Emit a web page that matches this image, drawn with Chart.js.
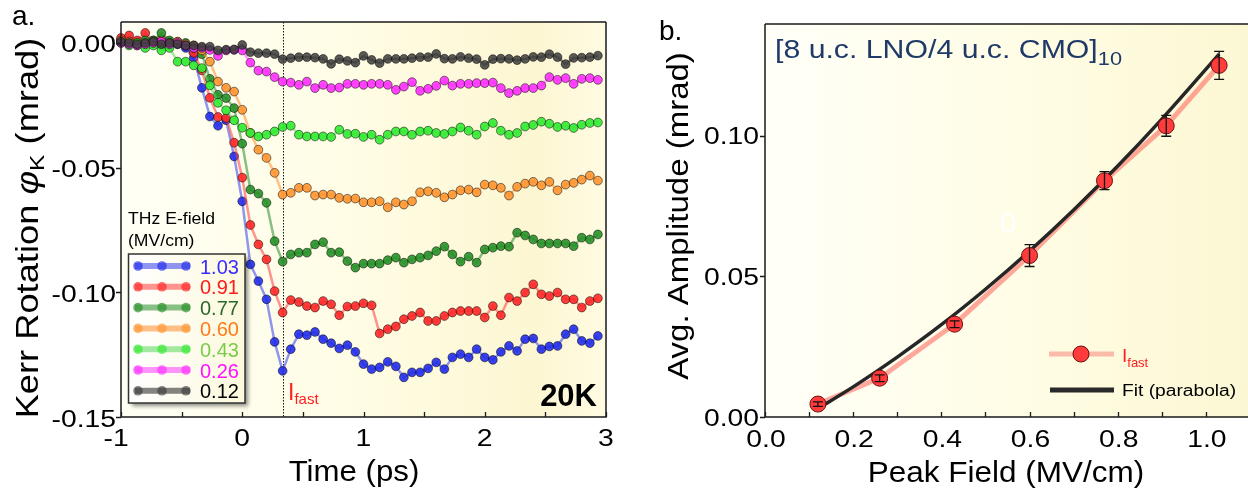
<!DOCTYPE html>
<html>
<head>
<meta charset="utf-8">
<script src="https://cdn.jsdelivr.net/npm/chart.js@4.4.1/dist/chart.umd.min.js"></script>
<style>
html, body { margin: 0; padding: 0; background: #fff; overflow: hidden; width: 1248px; height: 488px; }
#ca { position: absolute; left: 0; top: 0; }
#cb { position: absolute; left: 640px; top: 0; }
</style>
</head>
<body>
<canvas id="ca" width="640" height="488"></canvas>
<canvas id="cb" width="640" height="488"></canvas>
<script>
// ---- panel a : Kerr rotation vs time, one series per THz field ----
var times = [-1, -0.933, -0.867, -0.8, -0.733, -0.667, -0.6, -0.533, -0.467, -0.4,
  -0.333, -0.267, -0.2, -0.133, -0.067, 0, 0.067, 0.133, 0.2, 0.267,
  0.333, 0.4, 0.467, 0.533, 0.6, 0.667, 0.733, 0.8, 0.867, 0.933,
  1, 1.067, 1.133, 1.2, 1.267, 1.333, 1.4, 1.467, 1.533, 1.6,
  1.667, 1.733, 1.8, 1.867, 1.933, 2, 2.067, 2.133, 2.2, 2.267,
  2.333, 2.4, 2.467, 2.533, 2.6, 2.667, 2.733, 2.8, 2.867, 2.933];

var kerr103 = [0.001, 0.0005, 0, -0.0005, 0, 0.0005, -0.001, -0.0005, -0.002, -0.006,
  -0.018, -0.0295, -0.0332, -0.031, -0.0455, -0.0635, -0.0888, -0.0955, -0.1028, -0.1199,
  -0.1315, -0.1228, -0.1168, -0.1172, -0.1159, -0.1188, -0.1204, -0.1225, -0.1212, -0.1239,
  -0.1288, -0.1308, -0.1301, -0.1279, -0.1297, -0.1341, -0.1321, -0.1321, -0.1305, -0.1281,
  -0.1308, -0.1261, -0.1248, -0.1261, -0.1228, -0.1261, -0.1271, -0.1239, -0.1215, -0.1235,
  -0.1188, -0.1185, -0.1228, -0.1217, -0.1215, -0.1168, -0.1148, -0.1195, -0.1204, -0.1175];
var kerr091 = [0.002, 0.003, 0.001, 0.004, 0.001, 0.0015, 0, 0.0005, -0.001, -0.004,
  -0.011, -0.022, -0.0297, -0.0301, -0.040, -0.054, -0.0730, -0.0808, -0.0868, -0.0995,
  -0.1081, -0.1031, -0.1039, -0.1055, -0.1061, -0.1035, -0.1048, -0.1092, -0.1057, -0.1055,
  -0.1044, -0.1052, -0.1165, -0.1148, -0.1137, -0.1108, -0.1095, -0.1081, -0.1115, -0.1115,
  -0.1095, -0.1081, -0.1075, -0.1075, -0.1075, -0.1101, -0.1055, -0.1092, -0.1021, -0.1035,
  -0.1001, -0.0968, -0.1008, -0.1015, -0.1001, -0.1028, -0.1028, -0.1061, -0.1035, -0.1024];
var kerr077 = [0.0005, 0, -0.001, 0.001, 0.001, 0.004, 0.001, 0, 0, -0.002,
  -0.0045, -0.0144, -0.0208, -0.0221, -0.0261, -0.0404, -0.0588, -0.0604, -0.0641, -0.0795,
  -0.0877, -0.0848, -0.0841, -0.0841, -0.0808, -0.0799, -0.0841, -0.0839, -0.0875, -0.0901,
  -0.0885, -0.0885, -0.0885, -0.0871, -0.0861, -0.0881, -0.0868, -0.0861, -0.0852, -0.0835,
  -0.0817, -0.0848, -0.0877, -0.0857, -0.0881, -0.0828, -0.0821, -0.0815, -0.0817, -0.0761,
  -0.0772, -0.0788, -0.0804, -0.0804, -0.0804, -0.0804, -0.0815, -0.0781, -0.0788, -0.0768];
var kerr060 = [0.001, 0.0005, 0, -0.0005, 0, -0.001, 0, 0.0005, -0.0005, -0.001,
  -0.003, -0.0075, -0.0155, -0.018, -0.0195, -0.0268, -0.0361, -0.0428, -0.0461, -0.0521,
  -0.0608, -0.0601, -0.0581, -0.0581, -0.0612, -0.0608, -0.0608, -0.0621, -0.0625, -0.0624,
  -0.0639, -0.0639, -0.0635, -0.0659, -0.0639, -0.0648, -0.0635, -0.0599, -0.0595, -0.0601,
  -0.0619, -0.0608, -0.0591, -0.0588, -0.0599, -0.0568, -0.0571, -0.0581, -0.0612, -0.0577,
  -0.0564, -0.0557, -0.0571, -0.0557, -0.0591, -0.0568, -0.0561, -0.0548, -0.0532, -0.0552];
var kerr043 = [0, -0.001, 0, -0.002, -0.001, -0.003, -0.002, -0.0075, -0.0075, -0.009,
  -0.0101, -0.017, -0.024, -0.027, -0.031, -0.034, -0.0361, -0.0375, -0.0368, -0.0355,
  -0.0337, -0.0332, -0.0368, -0.0375, -0.0375, -0.0375, -0.0377, -0.0348, -0.0365, -0.0364,
  -0.0377, -0.0368, -0.0388, -0.0368, -0.0355, -0.0355, -0.0368, -0.0355, -0.0352, -0.0361,
  -0.0365, -0.0355, -0.0339, -0.0352, -0.0368, -0.0335, -0.0321, -0.0352, -0.0368, -0.0361,
  -0.0335, -0.0329, -0.0316, -0.0324, -0.0337, -0.0332, -0.0341, -0.0328, -0.0321, -0.0319];
var kerr026 = [0, -0.0005, -0.001, -0.0005, 0, 0.0005, -0.0005, 0, -0.001, -0.002,
  -0.002, -0.0028, -0.0052, -0.003, -0.0028, -0.003, -0.0079, -0.0111, -0.0115, -0.0137,
  -0.0155, -0.0159, -0.0168, -0.0155, -0.0181, -0.0168, -0.0181, -0.0179, -0.0164, -0.0164,
  -0.0168, -0.0164, -0.0164, -0.0168, -0.0188, -0.0175, -0.0157, -0.0192, -0.0184, -0.0172,
  -0.0151, -0.0171, -0.0164, -0.0164, -0.0161, -0.0161, -0.0159, -0.0181, -0.0201, -0.0192,
  -0.0181, -0.0181, -0.0171, -0.0137, -0.0148, -0.0141, -0.0164, -0.0144, -0.0141, -0.0148];
var kerr012 = [0.0005, 0, -0.0005, 0, 0.0005, -0.0005, 0, -0.0005, -0.001, -0.001,
  -0.0015, -0.0015, -0.003, -0.0027, -0.0026, -0.0008, -0.0037, -0.0041, -0.0041, -0.0045,
  -0.0065, -0.0061, -0.0057, -0.0057, -0.0059, -0.0064, -0.0084, -0.0065, -0.0072, -0.0079,
  -0.0052, -0.0068, -0.0081, -0.0064, -0.0064, -0.0064, -0.0061, -0.0057, -0.0057, -0.0044,
  -0.0063, -0.0064, -0.0056, -0.0061, -0.0065, -0.0088, -0.0065, -0.0063, -0.0064, -0.0069,
  -0.0064, -0.0056, -0.0057, -0.0045, -0.0057, -0.0085, -0.006, -0.0059, -0.0057, -0.0051];

var fieldLabels = ['1.03', '0.91', '0.77', '0.60', '0.43', '0.26', '0.12'];
var fastTime = 0.333;

var xTicksA = [-1, 0, 1, 2, 3];
var xMinorA = [-0.5, 0.5, 1.5, 2.5];
var yTicksA = [0, -0.05, -0.10, -0.15];
var yTickLabelsA = ['0.00', '-0.05', '-0.10', '-0.15'];

// ---- panel b : amplitude vs peak field ----
var peakField = [0.12, 0.26, 0.43, 0.60, 0.77, 0.91, 1.03];
var avgAmp = [0.0046, 0.0138, 0.0330, 0.0574, 0.0840, 0.1035, 0.1250];
var ampErr = [0.0008, 0.0012, 0.0012, 0.0039, 0.0032, 0.0037, 0.0050];
var fitField = [0.12, 0.2, 0.3, 0.4, 0.5, 0.6, 0.7, 0.8, 0.9, 1.03];
var fitAmp = [0.0030, 0.0107, 0.0213, 0.0328, 0.0454, 0.0590, 0.0736, 0.0892, 0.1059, 0.1290];

var xTicksB = [0, 0.2, 0.4, 0.6, 0.8, 1.0];
var xTickLabelsB = ['0.0', '0.2', '0.4', '0.6', '0.8', '1.0'];
var xMinorB = [0.1, 0.3, 0.5, 0.7, 0.9];
var yTicksB = [0, 0.05, 0.10];
var yTickLabelsB = ['0.00', '0.05', '0.10'];

var FONT = '"Liberation Sans", Arial, Helvetica, sans-serif';

var seriesStyle = [
  {data: kerr103, fill: 'rgba(35,45,235,0.9)',  line: 'rgba(70,80,240,0.6)',  text: '#3a2bff'},
  {data: kerr091, fill: 'rgba(255,40,40,0.9)',  line: 'rgba(255,60,60,0.55)', text: '#ff1a1a'},
  {data: kerr077, fill: 'rgba(40,145,40,0.9)',  line: 'rgba(40,140,40,0.55)', text: '#2c6a2c'},
  {data: kerr060, fill: 'rgba(255,150,50,0.9)', line: 'rgba(255,150,60,0.6)', text: '#ff7a1a'},
  {data: kerr043, fill: 'rgba(50,235,50,0.9)',  line: 'rgba(90,215,90,0.55)', text: '#78cc48'},
  {data: kerr026, fill: 'rgba(255,50,255,0.9)', line: 'rgba(255,60,255,0.55)', text: '#ff10ff'},
  {data: kerr012, fill: 'rgba(60,60,60,0.85)',  line: 'rgba(50,50,50,0.6)',  text: '#000000'}
];

function fontOf(p) {
  return (p.italic ? 'italic ' : '') + (p.bold ? 'bold ' : '') + p.size + 'px ' + FONT;
}

// draw a run of text pieces (sub/superscripts etc), optionally rotated
function rich(ctx, parts, x, y, o) {
  o = o || {};
  var sx = o.sx || 1;
  ctx.save();
  ctx.translate(x, y);
  if (o.rot) ctx.rotate(-Math.PI / 2);
  ctx.textBaseline = 'alphabetic';
  ctx.textAlign = 'left';
  var total = 0;
  parts.forEach(function (p) {
    ctx.font = fontOf(p);
    p.w = ctx.measureText(p.t).width * (p.sx || sx);
    total += p.w;
  });
  var cx = 0;
  if (o.align === 'center') cx = -total / 2;
  if (o.align === 'right') cx = -total;
  parts.forEach(function (p) {
    ctx.save();
    ctx.font = fontOf(p);
    ctx.fillStyle = p.color || o.color || '#000';
    ctx.translate(cx, p.dy || 0);
    ctx.scale(p.sx || sx, 1);
    ctx.fillText(p.t, 0, 0);
    ctx.restore();
    cx += p.w;
  });
  ctx.restore();
}

function txt(ctx, s, x, y, size, o) {
  o = o || {};
  rich(ctx, [{t: s, size: size, bold: o.bold, color: o.color}], x, y, o);
}

function drawFrame(ctx, a, sides) {
  ctx.save();
  ctx.strokeStyle = '#1a1a1a';
  ctx.lineWidth = 1.5;
  ctx.beginPath();
  ctx.moveTo(a.left, a.top);
  ctx.lineTo(a.left, a.bottom);
  ctx.lineTo(a.right, a.bottom);
  if (sides.right) ctx.lineTo(a.right, a.top);
  ctx.moveTo(a.left, a.top);
  ctx.lineTo(a.right, a.top);
  ctx.stroke();
  ctx.restore();
}

function xTickMarks(ctx, c, vals) {
  var a = c.chartArea;
  ctx.save();
  ctx.strokeStyle = '#1a1a1a';
  ctx.lineWidth = 1.3;
  ctx.beginPath();
  vals.forEach(function (v) {
    var px = Math.round(c.scales.x.getPixelForValue(v)) + 0.5;
    ctx.moveTo(px, a.bottom);
    ctx.lineTo(px, a.bottom - 5);
  });
  ctx.stroke();
  ctx.restore();
}

function yTickMarks(ctx, c, vals) {
  var a = c.chartArea;
  ctx.save();
  ctx.strokeStyle = '#1a1a1a';
  ctx.lineWidth = 1.3;
  ctx.beginPath();
  vals.forEach(function (v) {
    var py = Math.round(c.scales.y.getPixelForValue(v)) + 0.5;
    ctx.moveTo(a.left - 5, py);
    ctx.lineTo(a.left, py);
  });
  ctx.stroke();
  ctx.restore();
}

function fillBackground(c, stops) {
  var ctx = c.ctx, a = c.chartArea;
  var g = ctx.createLinearGradient(a.left, 0, a.right, 0);
  stops.forEach(function (s) { g.addColorStop(s[0], s[1]); });
  ctx.save();
  ctx.fillStyle = g;
  ctx.fillRect(a.left, a.top, a.right - a.left, a.bottom - a.top);
  ctx.restore();
}

var panelA = {
  id: 'panelA',
  beforeDatasetsDraw: function (c) {
    var ctx = c.ctx, a = c.chartArea;
    fillBackground(c, [[0, '#fffff5'], [0.45, '#fffde6'], [0.85, '#fcf6d2'], [1, '#fffbe2']]);
    var x = Math.round(c.scales.x.getPixelForValue(fastTime)) + 0.5;
    ctx.save();
    ctx.strokeStyle = '#111';
    ctx.lineWidth = 1;
    ctx.setLineDash([1.5, 1.5]);
    ctx.beginPath();
    ctx.moveTo(x, a.top);
    ctx.lineTo(x, a.bottom);
    ctx.stroke();
    ctx.restore();
  },
  afterDatasetsDraw: function (c) {
    var ctx = c.ctx, a = c.chartArea;
    drawFrame(ctx, a, {right: true});
    xTickMarks(ctx, c, xTicksA.concat(xMinorA));
    yTickMarks(ctx, c, yTicksA);
    xTicksA.forEach(function (v) {
      var px = c.scales.x.getPixelForValue(v);
      if (v < 0) {
        txt(ctx, '-', px - 8, 446, 24, {sx: 1.18, align: 'right'});
        txt(ctx, String(-v), px - 8, 446, 24, {sx: 1.18});
      } else {
        txt(ctx, String(v), px, 446, 24, {sx: 1.18, align: 'center'});
      }
    });
    yTicksA.forEach(function (v, i) {
      var py = c.scales.y.getPixelForValue(v);
      txt(ctx, yTickLabelsA[i], 116, py + 9.5, 24, {sx: 1.18, align: 'right'});
    });
    txt(ctx, 'Time (ps)', 354, 481, 30, {sx: 1.04, align: 'center'});
    rich(ctx, [
      {t: 'Kerr Rotation ', size: 31},
      {t: '\u03C6', size: 31, italic: true},
      {t: 'K', size: 21, dy: 6},
      {t: ' (mrad)', size: 31}
    ], 38, 228, {rot: true, align: 'center', sx: 1.17});
    txt(ctx, 'a.', 12, 25, 28);

    // legend box
    ctx.save();
    ctx.shadowColor = 'rgba(0,0,0,0.45)';
    ctx.shadowBlur = 4;
    ctx.shadowOffsetX = 3;
    ctx.shadowOffsetY = 3;
    var lg = ctx.createLinearGradient(128, 0, 245, 0);
    lg.addColorStop(0, '#ffffff');
    lg.addColorStop(1, '#fcf9dc');
    ctx.fillStyle = lg;
    ctx.fillRect(128.5, 254, 116.5, 149);
    ctx.restore();
    ctx.save();
    ctx.strokeStyle = '#333';
    ctx.lineWidth = 1.5;
    ctx.strokeRect(128.5, 254, 116.5, 149);
    ctx.restore();
    txt(ctx, 'THz E-field', 128, 224, 16, {sx: 1.1});
    txt(ctx, '(MV/cm)', 128, 246, 16, {sx: 1.1});
    seriesStyle.forEach(function (s, i) {
      var y = 266 + i * 20.8;
      ctx.save();
      ctx.strokeStyle = s.line;
      ctx.lineWidth = 6;
      ctx.beginPath();
      ctx.moveTo(135, y);
      ctx.lineTo(190, y);
      ctx.stroke();
      [138, 162, 186].forEach(function (px) {
        ctx.beginPath();
        ctx.arc(px, y, 4.8, 0, Math.PI * 2);
        ctx.fillStyle = s.fill;
        ctx.globalAlpha = 0.75;
        ctx.fill();
      });
      ctx.restore();
      txt(ctx, fieldLabels[i], 200, y + 7.5, 20, {color: s.text});
    });

    // annotations
    rich(ctx, [
      {t: 'I', size: 23, color: '#ff2020'},
      {t: 'fast', size: 15, dy: 4, color: '#ff2020'}
    ], 288, 400, {});
    txt(ctx, '20K', 597, 406, 31, {bold: true, align: 'right'});
  }
};

var datasetsA = seriesStyle.slice().reverse().map(function (s) {
  return {
    data: times.map(function (t, i) { return {x: t, y: s.data[i]}; }),
    borderColor: s.line,
    borderWidth: 2.5,
    backgroundColor: s.fill,
    pointBackgroundColor: s.fill,
    pointBorderColor: 'rgba(0,0,0,0.5)',
    pointBorderWidth: 1,
    pointRadius: 4.4,
    tension: 0,
    clip: false
  };
});

new Chart(document.getElementById('ca'), {
  type: 'line',
  data: {datasets: datasetsA},
  options: {
    responsive: false,
    animation: false,
    events: [],
    layout: {padding: {left: 0, right: 34, top: 22, bottom: 0}},
    plugins: {legend: {display: false}, tooltip: {enabled: false}},
    scales: {
      x: {type: 'linear', min: -1, max: 3, ticks: {display: false}, grid: {display: false},
          border: {display: false}, afterFit: function (s) { s.height = 71; }},
      y: {type: 'linear', min: -0.15, max: 0.0084, ticks: {display: false}, grid: {display: false},
          border: {display: false}, afterFit: function (s) { s.width = 121; }}
    }
  },
  plugins: [panelA]
});

var panelB = {
  id: 'panelB',
  beforeDatasetsDraw: function (c) {
    fillBackground(c, [[0, '#fffff8'], [0.5, '#fffde6'], [1, '#fcf7d3']]);
  },
  afterDatasetsDraw: function (c) {
    var ctx = c.ctx, a = c.chartArea;
    // error bars
    ctx.save();
    ctx.strokeStyle = '#111';
    ctx.lineWidth = 1.3;
    peakField.forEach(function (f, i) {
      var px = c.scales.x.getPixelForValue(f);
      var y1 = c.scales.y.getPixelForValue(avgAmp[i] + ampErr[i]);
      var y2 = c.scales.y.getPixelForValue(avgAmp[i] - ampErr[i]);
      ctx.beginPath();
      ctx.moveTo(px, y1); ctx.lineTo(px, y2);
      ctx.moveTo(px - 5, y1); ctx.lineTo(px + 5, y1);
      ctx.moveTo(px - 5, y2); ctx.lineTo(px + 5, y2);
      ctx.stroke();
    });
    ctx.restore();

    drawFrame(ctx, a, {right: false});
    xTickMarks(ctx, c, xTicksB.concat(xMinorB));
    yTickMarks(ctx, c, yTicksB);
    xTicksB.forEach(function (v, i) {
      txt(ctx, xTickLabelsB[i], c.scales.x.getPixelForValue(v) + 1, 447, 24, {sx: 1.18, align: 'center'});
    });
    yTicksB.forEach(function (v, i) {
      txt(ctx, yTickLabelsB[i], 119, c.scales.y.getPixelForValue(v) + 8.5, 24, {sx: 1.18, align: 'right'});
    });
    txt(ctx, 'Peak Field (MV/cm)', 366, 482, 30, {sx: 1.05, align: 'center'});
    txt(ctx, 'Avg. Amplitude (mrad)', 48, 216, 30, {rot: true, sx: 1.1, align: 'center'});
    txt(ctx, 'b.', 19, 40, 28);
    rich(ctx, [
      {t: '[8 u.c. LNO/4 u.c. CMO]', size: 25},
      {t: '10', size: 18, dy: 7}
    ], 135, 58, {sx: 1.21, color: '#1f3a68'});
    txt(ctx, '0', 368, 233, 30, {color: '#ffffff', align: 'center'});

    // legend
    ctx.save();
    ctx.lineWidth = 5;
    ctx.strokeStyle = 'rgba(250,175,160,0.85)';
    ctx.beginPath(); ctx.moveTo(409, 354); ctx.lineTo(474, 354); ctx.stroke();
    ctx.beginPath(); ctx.arc(441, 354, 8, 0, Math.PI * 2);
    ctx.fillStyle = '#ff3b3b'; ctx.fill();
    ctx.lineWidth = 1; ctx.strokeStyle = '#6b1010'; ctx.stroke();
    ctx.lineWidth = 5;
    ctx.strokeStyle = '#2a2a2a';
    ctx.beginPath(); ctx.moveTo(410, 390); ctx.lineTo(474, 390); ctx.stroke();
    ctx.restore();
    rich(ctx, [
      {t: 'I', size: 19, color: '#ff2020'},
      {t: 'fast', size: 13, dy: 5, color: '#ff2020'}
    ], 482, 362, {});
    txt(ctx, 'Fit (parabola)', 482, 396, 16, {sx: 1.2});
  }
};

var pts = peakField.map(function (f, i) { return {x: f, y: avgAmp[i]}; });

new Chart(document.getElementById('cb'), {
  type: 'line',
  data: {
    datasets: [
      {data: pts, showLine: false, pointRadius: 8, pointBackgroundColor: '#ff3b3b',
       pointBorderColor: '#6b1010', pointBorderWidth: 1, clip: false},
      {data: fitField.map(function (f, i) { return {x: f, y: fitAmp[i]}; }),
       borderColor: '#262626', borderWidth: 3.5, pointRadius: 0, cubicInterpolationMode: 'monotone'},
      {data: pts, borderColor: 'rgba(255,110,100,0.6)', borderWidth: 5, pointRadius: 0}
    ]
  },
  options: {
    responsive: false,
    animation: false,
    events: [],
    layout: {padding: {left: 0, right: 30, top: 24, bottom: 0}},
    plugins: {legend: {display: false}, tooltip: {enabled: false}},
    scales: {
      x: {type: 'linear', min: 0, max: 1.1, ticks: {display: false}, grid: {display: false},
          border: {display: false}, afterFit: function (s) { s.height = 71; }},
      y: {type: 'linear', min: 0, max: 0.1397, ticks: {display: false}, grid: {display: false},
          border: {display: false}, afterFit: function (s) { s.width = 125; }}
    }
  },
  plugins: [panelB]
});
</script>
</body>
</html>
